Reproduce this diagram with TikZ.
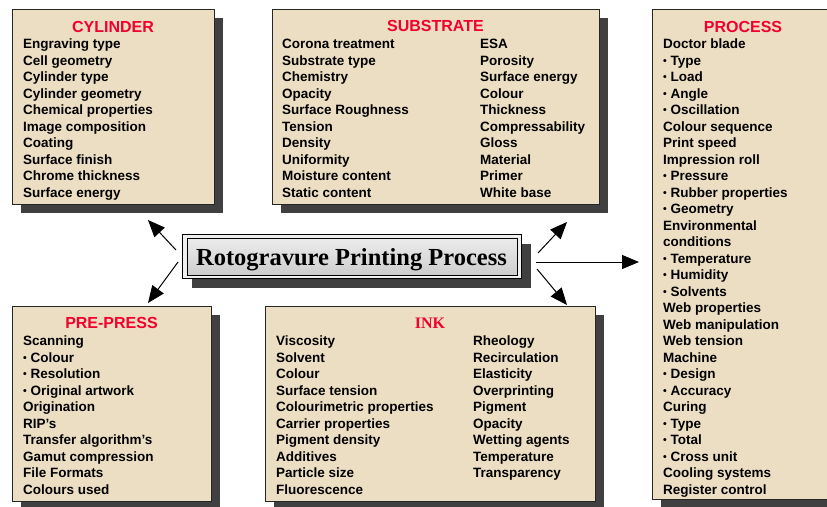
\documentclass[tikz,border=0pt]{standalone}
\usepackage{fontspec}
\setmainfont{Liberation Sans}
\newfontfamily\serifbf{Liberation Serif}
\usetikzlibrary{arrows.meta,shadows}
\definecolor{parch}{RGB}{236,222,194}
\definecolor{shade}{RGB}{64,64,64}
\definecolor{headred}{RGB}{242,0,48}
\definecolor{marbleA}{RGB}{236,236,236}
\definecolor{marbleB}{RGB}{205,205,205}
\newcommand\bul{\raisebox{0.6pt}{\fontsize{10.5}{10.5}\selectfont •}}
\begin{document}
\begin{tikzpicture}[x=1pt,y=-1pt,
  panel/.style={draw=black!85, line width=0.9pt, fill=parch, anchor=north west, inner sep=0pt,
    general shadow={fill=shade, shadow xshift=9pt, shadow yshift=-9pt}},
  head/.style={font=\fontsize{16}{19}\selectfont\bfseries, text=headred, anchor=base, inner sep=0pt},
  items/.style={font=\fontsize{13.5}{16.5}\selectfont\bfseries, align=left, anchor=base west, inner sep=0pt},
  conn/.style={line width=1pt, -{Triangle[length=17pt,width=14pt]}}
]
\useasboundingbox (0,0) rectangle (827,506);
% panels
\node[panel, minimum width=202pt, minimum height=195pt] (cyl) at (12,9) {};
\node[panel, minimum width=327pt, minimum height=195pt] (sub) at (272,9) {};
\node[panel, minimum width=183pt, minimum height=490pt] (proc) at (652,9) {};
\node[panel, minimum width=199pt, minimum height=195pt] (pre) at (12,306) {};
\node[panel, minimum width=330pt, minimum height=195pt] (ink) at (265,306) {};
% centre title
\node[draw=black, line width=1pt, fill=gray!12, anchor=north west, inner sep=0pt,
  minimum width=339pt, minimum height=44pt,
  general shadow={fill=shade, shadow xshift=9pt, shadow yshift=-9pt}] (outer) at (182,234) {};
\node[draw=black, line width=0.8pt, top color=marbleA, bottom color=marbleB, anchor=north west, inner sep=0pt,
  minimum width=330.5pt, minimum height=37.5pt] (inner) at (186.5,237.5) {};
\node[font=\fontsize{24.5}{28}\selectfont\serifbf\bfseries, anchor=base, inner sep=0pt] (title) at (351.5,265) {Rotogravure Printing Process};
% headings
\node[head] (hcyl) at (113,32) {CYLINDER};
\node[head] (hsub) at (435.5,31) {SUBSTRATE};
\node[head] (hproc) at (743,32) {PROCESS};
\node[head] (hpre) at (111.5,328) {PRE-PRESS};
\node[head, font=\fontsize{16}{19}\selectfont\serifbf\bfseries] (hink) at (430,328) {INK};
% item lists (anchored at the baseline of their last line)
\node[items] (tcyl) at (23,197) {Engraving type\\Cell geometry\\Cylinder type\\Cylinder geometry\\Chemical properties\\Image composition\\Coating\\Surface finish\\Chrome thickness\\Surface energy};
\node[items] (tsubA) at (282,197) {Corona treatment\\Substrate type\\Chemistry\\Opacity\\Surface Roughness\\Tension\\Density\\Uniformity\\Moisture content\\Static content};
\node[items] (tsubB) at (480,197) {ESA\\Porosity\\Surface energy\\Colour\\Thickness\\Compressability\\Gloss\\Material\\Primer\\White base};
\node[items] (tproc) at (663,494) {Doctor blade\\\bul\ Type\\\bul\ Load\\\bul\ Angle\\\bul\ Oscillation\\Colour sequence\\Print speed\\Impression roll\\\bul\ Pressure\\\bul\ Rubber properties\\\bul\ Geometry\\Environmental\\conditions\\\bul\ Temperature\\\bul\ Humidity\\\bul\ Solvents\\Web properties\\Web manipulation\\Web tension\\Machine\\\bul\ Design\\\bul\ Accuracy\\Curing\\\bul\ Type\\\bul\ Total\\\bul\ Cross unit\\Cooling systems\\Register control};
\node[items] (tpre) at (23,494) {Scanning\\\bul\ Colour\\\bul\ Resolution\\\bul\ Original artwork\\Origination\\RIP’s\\Transfer algorithm’s\\Gamut compression\\File Formats\\Colours used};
\node[items] (tinkA) at (276,494) {Viscosity\\Solvent\\Colour\\Surface tension\\Colourimetric properties\\Carrier properties\\Pigment density\\Additives\\Particle size\\Fluorescence};
\node[items] (tinkB) at (473,477.5) {Rheology\\Recirculation\\Elasticity\\Overprinting\\Pigment\\Opacity\\Wetting agents\\Temperature\\Transparency};
% connector end points
\coordinate (s1) at (176,250); \coordinate (e1) at (148,220);
\coordinate (s2) at (178,262); \coordinate (e2) at (148,303);
\coordinate (s3) at (538,253); \coordinate (e3) at (567,222);
\coordinate (s4) at (536,262); \coordinate (e4) at (639,262);
\coordinate (s5) at (537,269); \coordinate (e5) at (567,305);
\draw[conn] (s1) -- (e1);
\draw[conn] (s2) -- (e2);
\draw[conn] (s3) -- (e3);
\draw[conn] (s4) -- (e4);
\draw[conn] (s5) -- (e5);
\end{tikzpicture}
\end{document}
